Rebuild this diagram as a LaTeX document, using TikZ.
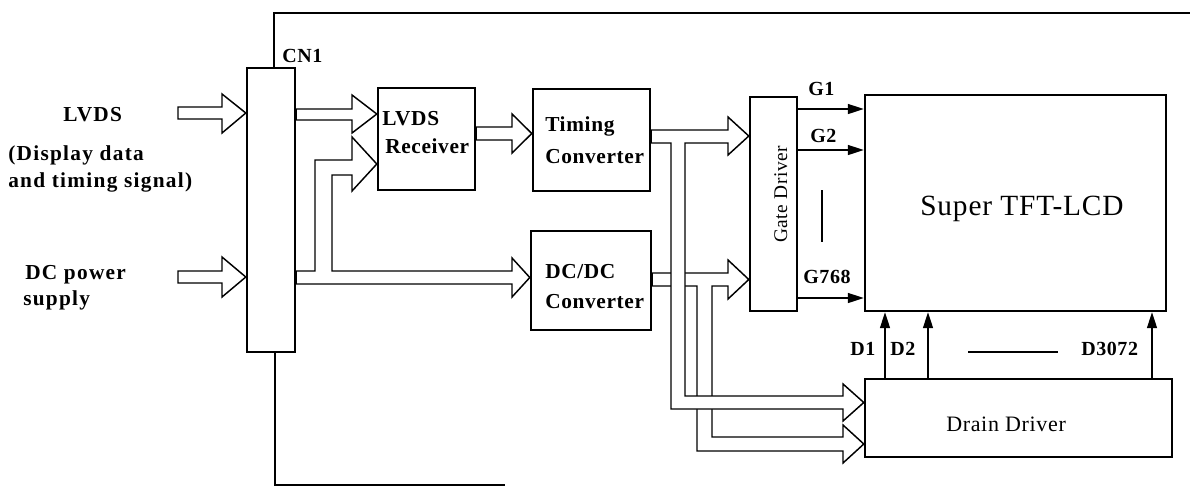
\documentclass[tikz,border=0pt]{standalone}
\usepackage{fontspec}
\setmainfont{Liberation Serif}
\newfontfamily\lblfont[LetterSpace=3.0]{Liberation Serif}
\newfontfamily\widefont[LetterSpace=6.0]{Liberation Serif}
\usetikzlibrary{arrows.meta}
\pgfdeclarelayer{bg}
\pgfsetlayers{bg,main}
\begin{document}
\begin{tikzpicture}[x=0.75pt,y=-0.75pt,
  box/.style={draw, line width=1.8pt, inner sep=0pt},
  bus/.style={draw, line width=1.1pt, fill=white, line join=miter},
  sig/.style={line width=1.1pt, -{Triangle[length=12pt,width=7.5pt]}},
  frame/.style={line width=0.8pt},
  dashmark/.style={line width=0.9pt},
  big/.style={font=\lblfont\bfseries\fontsize{16}{20}\selectfont, inner sep=0pt, anchor=base west},
  wide/.style={font=\widefont\bfseries\fontsize{16}{20}\selectfont, inner sep=0pt, anchor=base west},
  small/.style={font=\lblfont\bfseries\fontsize{15}{18}\selectfont, inner sep=0pt, anchor=base west},
  plain/.style={font=\lblfont\fontsize{#1}{#1}\selectfont, inner sep=0pt, anchor=base west}]
\useasboundingbox (0,0) rectangle (1190,487);

% boxes
\node[box, minimum width=36pt, minimum height=213pt] (cn1) at (271,210) {};
\node[box, minimum width=72.75pt, minimum height=76.5pt] (rx) at (426.5,139) {};
\node[box, minimum width=87.75pt, minimum height=76.5pt] (tc) at (591.5,140) {};
\node[box, minimum width=90pt, minimum height=74.25pt] (dc) at (591,280.5) {};
\node[box, minimum width=35.25pt, minimum height=160.5pt] (gd) at (773.5,204) {};
\node[box, minimum width=225.75pt, minimum height=162pt] (lcd) at (1015.5,203) {};
\node[box, minimum width=230.25pt, minimum height=58.5pt] (dd) at (1018.5,418) {};

% texts
\node[wide] (tlvds) at (63,121) {LVDS};
\node[wide] (tdisp) at (8,160) {(Display data};
\node[wide] (ttim) at (8,187) {and timing signal)};
\node[wide] (tdcp) at (25,279) {DC power};
\node[wide] (tsup) at (23,305) {supply};
\node[big] (rx1) at (382,125) {LVDS};
\node[big] (rx2) at (385,153) {Receiver};
\node[big] (tc1) at (545,131) {Timing};
\node[big] (tc2) at (545,163) {Converter};
\node[big] (dc1) at (545,278) {DC/DC};
\node[big] (dc2) at (545,308) {Converter};
\node[small] (tcn) at (282,62) {CN1};
\node[small] (tg1) at (808,95) {G1};
\node[small] (tg2) at (810,142) {G2};
\node[small] (tg768) at (803,283) {G768};
\node[small] (td1) at (850,355) {D1};
\node[small] (td2) at (890,355) {D2};
\node[small] (td3072) at (1081,355) {D3072};
\node[plain=22] (tlcd) at (920,215) {Super TFT-LCD};
\node[plain=16.5] (tdd) at (946,431) {Drain Driver};
\node[plain=14.5, rotate=90] (tgd) at (787,243) {Gate Driver};

% signal arrows
\draw[sig] (gd.east |- 0,109) -- (lcd.west |- 0,109);
\draw[sig] (gd.east |- 0,150) -- (lcd.west |- 0,150);
\draw[sig] (gd.east |- 0,298) -- (lcd.west |- 0,298);
\draw[sig] (dd.north -| 885,0) -- (lcd.south -| 885,0);
\draw[sig] (dd.north -| 928,0) -- (lcd.south -| 928,0);
\draw[sig] (dd.north -| 1152,0) -- (lcd.south -| 1152,0);
\draw[dashmark] (822,190) -- (822,242);
\draw[dashmark] (968,352) -- (1058,352);

% frame lines
\coordinate (ftop) at (274,13);
\coordinate (fend) at (1190,13);
\coordinate (fbot) at (275,485);
\coordinate (fbend) at (505,485);
\draw[frame] (ftop |- cn1.north) -- (ftop) -- (fend);
\draw[frame] (fbot |- cn1.south) -- (fbot) -- (fbend);

\begin{pgfonlayer}{bg}
% inputs
\draw[bus] (178,107) -- (222,107) -- (222,94) -- (cn1.west |- 0,113) -- (222,133) -- (222,119) -- (178,119) -- cycle;
\draw[bus] (178,271) -- (222,271) -- (222,257) -- (cn1.west |- 0,277) -- (222,297) -- (222,283) -- (178,283) -- cycle;
% CN1 -> LVDS receiver
\draw[bus] (cn1.east |- 0,109) -- (352,109) -- (352,95) -- (rx.west |- 0,114) -- (352,133) -- (352,120) -- (cn1.east |- 0,120) -- cycle;
% power bus
\draw[bus] (cn1.east |- 0,271) -- (315,271) -- (315,160) -- (352,160) -- (352,137) -- (rx.west |- 0,164) -- (352,191) -- (352,175) -- (332,175) -- (332,271) -- (512,271) -- (512,258) -- (dc.west |- 0,277.5) -- (512,297) -- (512,284) -- (cn1.east |- 0,284) -- cycle;
% receiver -> timing
\draw[bus] (rx.east |- 0,127) -- (512,127) -- (512,114) -- (tc.west |- 0,133.5) -- (512,153) -- (512,140) -- (rx.east |- 0,140) -- cycle;
% DC/DC bus
\draw[bus] (dc.east |- 0,273) -- (728,273) -- (728,260) -- (gd.west |- 0,279.5) -- (728,299) -- (728,286) -- (712,286) -- (712,437) -- (843,437) -- (843,425) -- (dd.west |- 0,444) -- (843,463) -- (843,451) -- (697,451) -- (697,286) -- (dc.east |- 0,286) -- cycle;
% timing bus
\draw[bus] (tc.east |- 0,130) -- (728,130) -- (728,117) -- (gd.west |- 0,136) -- (728,155) -- (728,143) -- (685,143) -- (685,396) -- (843,396) -- (843,384) -- (dd.west |- 0,402.5) -- (843,421) -- (843,409) -- (671,409) -- (671,143) -- (tc.east |- 0,143) -- cycle;
\end{pgfonlayer}
\end{tikzpicture}
\end{document}
